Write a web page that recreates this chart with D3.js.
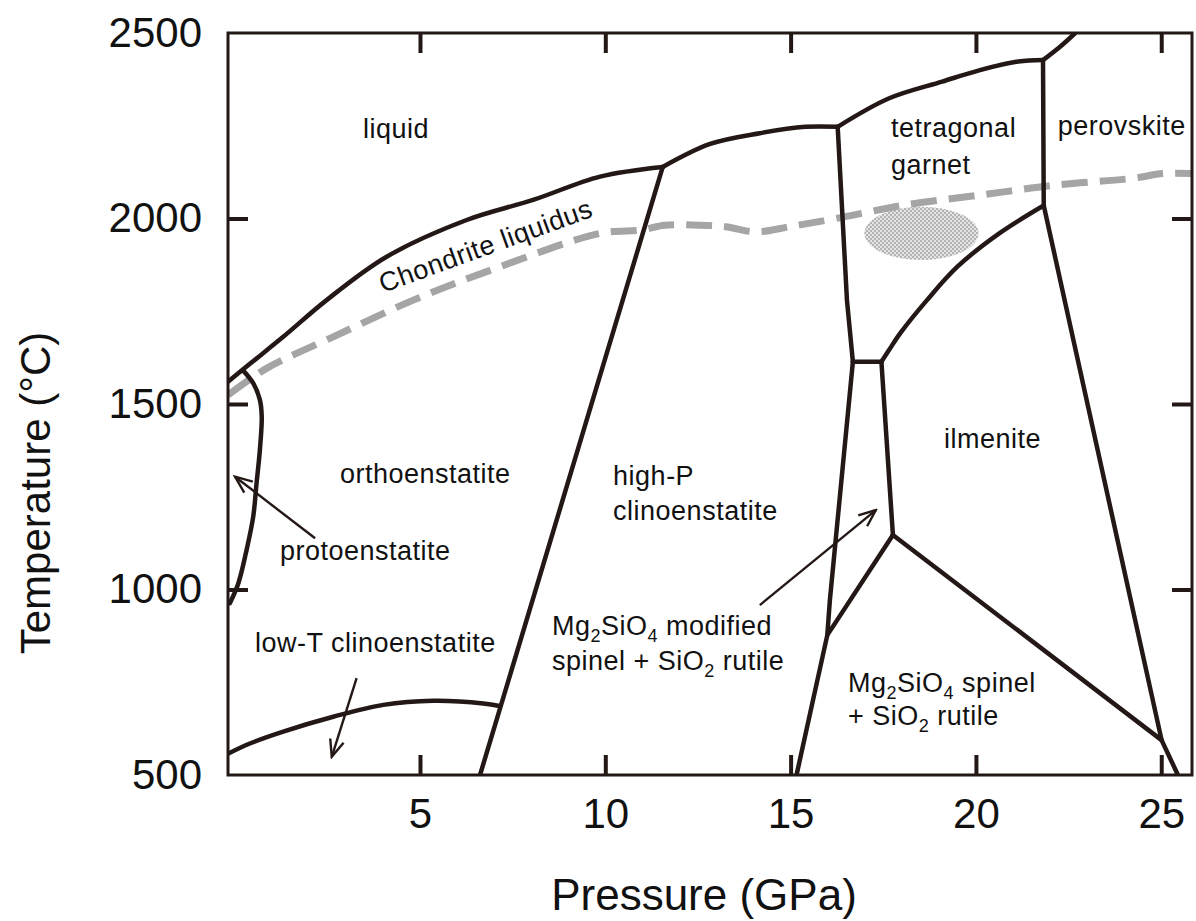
<!DOCTYPE html>
<html>
<head>
<meta charset="utf-8">
<script src="https://cdn.jsdelivr.net/npm/d3@7"></script>
<style>
  body { margin: 0; background: #fff; }
  text { font-family: "Liberation Sans", Arial, Helvetica, sans-serif; }
</style>
</head>
<body>
<div id="chart"></div>
<script>
// Phase boundaries of MgSiO3, points are [pressure GPa, temperature °C]
const liquidusLow = [[-0.18, 1560], [0.42, 1609], [1.31, 1681], [2.48, 1780], [4.10, 1897], [6.26, 1996], [8.05, 2050], [9.86, 2113], [11.55, 2139]];
const liquidusMid = [[11.55, 2139], [12.83, 2201], [14.17, 2230], [15.40, 2247], [16.27, 2247]];
const garnetTop = [[16.27, 2247], [17.66, 2324], [19.09, 2369], [20.11, 2400], [21.14, 2423], [21.81, 2427]];
const perovskiteTop = [[21.81, 2427], [22.27, 2463], [22.68, 2500]];
const protoBoundary = [[0.23, 1590], [0.50, 1556], [0.68, 1511], [0.73, 1466], [0.68, 1376], [0.59, 1286], [0.50, 1196], [0.32, 1106], [0.10, 1017], [-0.13, 963]];
const lowTBoundary = [[-0.17, 558], [0.41, 585], [1.31, 617], [2.66, 657], [4.01, 689], [5.36, 700], [6.71, 693], [7.15, 686]];
const ilmGarnet = [[17.45, 1614], [17.66, 1646], [17.96, 1691], [18.68, 1780], [19.50, 1870], [20.63, 1960], [21.83, 2035]];

// straight boundaries
const highPBoundary = [[6.62, 500], [11.55, 2139]];
const garnetLeft = [[16.27, 2247], [16.52, 1780], [16.68, 1614]];
const spinelLeft = [[16.68, 1614], [16.06, 972], [15.99, 877], [15.16, 500]];
const tripleTop = [[16.68, 1614], [17.45, 1614]];
const modSpinelRight = [[17.45, 1614], [17.76, 1147]];
const modSpinelBase = [[17.76, 1147], [15.99, 877]];
const spinelIlm = [[17.76, 1147], [25.01, 594]];
const perovskiteLeft = [[21.81, 2427], [21.83, 2035]];
const perovskiteBase = [[21.83, 2035], [25.01, 594], [25.45, 500]];

// chondrite liquidus (dashed)
const chondrite = [[-0.18, 1524], [0.86, 1596], [2.66, 1681], [4.82, 1780], [7.16, 1870], [9.86, 1960], [10.98, 1969], [11.60, 1982], [12.53, 1982], [13.24, 1978], [14.06, 1964], [14.98, 1978], [16.22, 2000], [18.06, 2036], [20.11, 2063], [22.16, 2090], [24.21, 2108], [25.04, 2121], [25.83, 2121]];

// shaded field: centre, half-widths
const meltField = {p: 18.53, T: 1960, dp: 1.54, dT: 72};

// arrows: [tail, tip]
const arrows = [
    [[2.17, 1138], [0.01, 1304]],
    [[3.29, 761], [2.62, 549]],
    [[14.17, 958], [17.30, 1214]]
];

// field labels and their anchors (start of baseline)
const labelTexts = ["liquid", "tetragonal", "garnet", "perovskite", "ilmenite", "high-P", "clinoenstatite",
    "orthoenstatite", "protoenstatite", "low-T clinoenstatite", "Mg2SiO4 modified", "spinel + SiO2 rutile",
    "Mg2SiO4 spinel", "+ SiO2 rutile"];
const labelAnchors = [[3.46, 2217], [17.71, 2220], [17.71, 2120], [22.21, 2225], [19.14, 1381], [10.21, 1282], [10.21, 1187],
    [2.84, 1287], [1.22, 1080], [0.55, 832], [8.56, 877], [8.56, 783],
    [16.55, 724], [16.55, 635]];
const chondriteLabel = "Chondrite liquidus";
const chondriteAnchor = [4.0, 1799];

const xTicks = [5, 10, 15, 20, 25];
const yTicks = [500, 1000, 1500, 2000, 2500];
const xTitle = "Pressure (GPa)";
const yTitle = "Temperature (°C)";

function renderDiagram() {
    const width = 1196;
    const height = 921;
    const ink = "#231815";

    const svg = d3.create("svg")
        .attr("viewBox", [0, 0, width, height])
        .attr("width", width)
        .attr("height", height);

    svg.append("rect").attr("width", width).attr("height", height).attr("fill", "#fff");

    const x = d3.scaleLinear([-0.18, 25.83], [228, 1192]);
    const y = d3.scaleLinear([500, 2500], [775, 33]);

    const defs = svg.append("defs");

    defs.append("clipPath").attr("id", "plot-clip")
        .append("rect")
        .attr("x", x.range()[0]).attr("y", y.range()[1])
        .attr("width", x.range()[1] - x.range()[0])
        .attr("height", y.range()[0] - y.range()[1]);

    // stipple for the shaded field
    const pattern = defs.append("pattern")
        .attr("id", "stipple")
        .attr("width", 4).attr("height", 4)
        .attr("patternUnits", "userSpaceOnUse");
    pattern.append("rect").attr("width", 4).attr("height", 4).attr("fill", "#e4e4e4");
    pattern.append("rect").attr("width", 2).attr("height", 2).attr("fill", "#b4b4b4");
    pattern.append("rect").attr("x", 2).attr("y", 2).attr("width", 2).attr("height", 2).attr("fill", "#b4b4b4");

    defs.append("marker")
        .attr("id", "open-arrow")
        .attr("viewBox", "0 0 20 20")
        .attr("refX", 18).attr("refY", 10)
        .attr("markerWidth", 20).attr("markerHeight", 20)
        .attr("markerUnits", "userSpaceOnUse")
        .attr("orient", "auto")
        .append("path")
        .attr("d", "M1,3 L18,10 L1,17")
        .attr("fill", "none")
        .attr("stroke", ink)
        .attr("stroke-width", 2.4);

    const plot = svg.append("g").attr("clip-path", "url(#plot-clip)");

    // shaded field
    plot.append("ellipse")
        .attr("cx", x(meltField.p))
        .attr("cy", y(meltField.T))
        .attr("rx", x(meltField.p + meltField.dp) - x(meltField.p))
        .attr("ry", y(meltField.T - meltField.dT) - y(meltField.T))
        .attr("fill", "url(#stipple)");

    const curved = d3.line().x(d => x(d[0])).y(d => y(d[1])).curve(d3.curveCatmullRom.alpha(0.5));
    const straight = d3.line().x(d => x(d[0])).y(d => y(d[1]));

    // chondrite liquidus
    plot.append("path")
        .attr("d", curved(chondrite))
        .attr("fill", "none")
        .attr("stroke", "#a5a5a5")
        .attr("stroke-width", 7)
        .attr("stroke-dasharray", "26,12");

    const curvedLines = [liquidusLow, liquidusMid, garnetTop, perovskiteTop, protoBoundary, lowTBoundary, ilmGarnet];
    const straightLines = [highPBoundary, garnetLeft, spinelLeft, tripleTop, modSpinelRight, modSpinelBase, spinelIlm, perovskiteLeft, perovskiteBase];

    plot.selectAll(".curved")
        .data(curvedLines)
        .join("path")
        .attr("class", "curved")
        .attr("d", curved)
        .attr("fill", "none")
        .attr("stroke", ink)
        .attr("stroke-width", 4.5)
        .attr("stroke-linecap", "round")
        .attr("stroke-linejoin", "round");

    plot.selectAll(".straight")
        .data(straightLines)
        .join("path")
        .attr("class", "straight")
        .attr("d", straight)
        .attr("fill", "none")
        .attr("stroke", ink)
        .attr("stroke-width", 4.5)
        .attr("stroke-linecap", "round")
        .attr("stroke-linejoin", "round");

    // arrows
    svg.selectAll(".arrow")
        .data(arrows)
        .join("path")
        .attr("class", "arrow")
        .attr("d", straight)
        .attr("fill", "none")
        .attr("stroke", ink)
        .attr("stroke-width", 2.4)
        .attr("marker-end", "url(#open-arrow)");

    // field labels, digits written as subscripts
    const labels = svg.append("g")
        .attr("font-size", 27)
        .attr("letter-spacing", "0.5px")
        .attr("fill", "#111");

    labelTexts.forEach((t, i) => {
        const txt = labels.append("text")
            .attr("x", x(labelAnchors[i][0]))
            .attr("y", y(labelAnchors[i][1]));
        let lowered = false;
        t.split(/(\d)/).filter(s => s.length).forEach(part => {
            const isSub = /^\d$/.test(part);
            const span = txt.append("tspan").text(part);
            if (isSub) {
                span.attr("font-size", 18).attr("dy", 7);
                lowered = true;
            } else if (lowered) {
                span.attr("dy", -7);
                lowered = false;
            }
        });
    });

    labels.append("text")
        .attr("transform", `translate(${x(chondriteAnchor[0])},${y(chondriteAnchor[1])}) rotate(-20)`)
        .text(chondriteLabel);

    // axes: ticks point inward on all four sides
    const styleAxis = (g, lineWidth) => {
        g.select(".domain").remove();
        g.attr("font-size", 42)
            .attr("font-family", "'Liberation Sans', Arial, sans-serif")
            .attr("color", ink);
        g.selectAll(".tick line").attr("stroke-width", lineWidth);
        g.selectAll(".tick text").attr("fill", "#111");
    };

    svg.append("g")
        .attr("transform", `translate(0,${y.range()[0]})`)
        .call(d3.axisBottom(x).tickValues(xTicks).tickSize(-20).tickPadding(23).tickFormat(d3.format("d")))
        .call(g => styleAxis(g, 4));

    svg.append("g")
        .attr("transform", `translate(0,${y.range()[1]})`)
        .call(d3.axisTop(x).tickValues(xTicks).tickSize(-20).tickFormat(""))
        .call(g => styleAxis(g, 4));

    svg.append("g")
        .attr("transform", `translate(${x.range()[0]},0)`)
        .call(d3.axisLeft(y).tickValues(yTicks).tickSize(-20).tickPadding(26).tickFormat(d3.format("d")))
        .call(g => styleAxis(g, 4))
        .call(g => g.selectAll(".tick").filter(d => d === 500 || d === 2500).select("line").remove());

    svg.append("g")
        .attr("transform", `translate(${x.range()[1]},0)`)
        .call(d3.axisRight(y).tickValues(yTicks.slice(1, -1)).tickSize(-20).tickFormat(""))
        .call(g => styleAxis(g, 4));

    // frame
    svg.append("rect")
        .attr("x", x.range()[0])
        .attr("y", y.range()[1])
        .attr("width", x.range()[1] - x.range()[0])
        .attr("height", y.range()[0] - y.range()[1])
        .attr("fill", "none")
        .attr("stroke", ink)
        .attr("stroke-width", 3);

    // axis titles
    svg.append("text")
        .attr("x", 704)
        .attr("y", 910)
        .attr("text-anchor", "middle")
        .attr("font-size", 44)
        .attr("fill", "#111")
        .text(xTitle);

    svg.append("text")
        .attr("transform", "translate(50,493) rotate(-90)")
        .attr("text-anchor", "middle")
        .attr("font-size", 42)
        .attr("fill", "#111")
        .text(yTitle);

    document.getElementById("chart").appendChild(svg.node());
}

renderDiagram();
</script>
</body>
</html>
